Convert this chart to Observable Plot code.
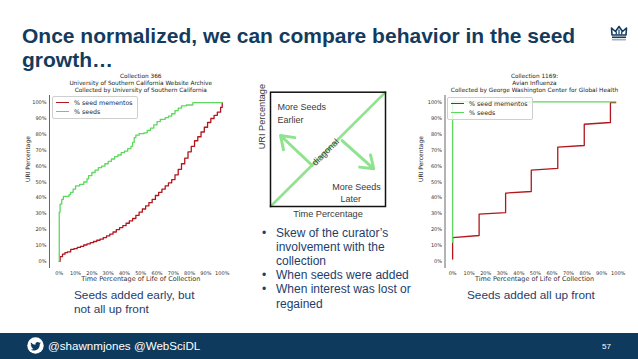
<!DOCTYPE html>
<html><head><meta charset="utf-8">
<script src="https://cdn.jsdelivr.net/npm/d3@7"></script>
<script src="https://cdn.jsdelivr.net/npm/@observablehq/plot@0.6"></script>
<style>
html,body{margin:0;padding:0;background:#fff;}
#slide{position:relative;width:638px;height:359px;overflow:hidden;font-family:"Liberation Sans",Arial,sans-serif;background:#fff;}
.abs{position:absolute;white-space:nowrap;}
.legend{position:absolute;background:rgba(255,255,255,0.8);border:1px solid #cfcfcf;border-radius:2px;font-family:"DejaVu Sans";font-size:6.3px;color:#222;}
.legend .row{position:absolute;left:3px;height:8px;line-height:8px;}
.legend .sw{display:inline-block;width:13px;height:1.4px;vertical-align:middle;margin-right:5px;position:relative;top:-0.5px;}
</style></head>
<body><div id="slide"></div>
<script>
// ---------- data ----------
const slideTitle = ["Once normalized, we can compare behavior in the seed", "growth\u2026"];
const pctTicks = [0, 10, 20, 30, 40, 50, 60, 70, 80, 90, 100];
const seriesNames = ["% seed mementos", "% seeds"];
const xAxisLabel = "Time Percentage of Life of Collection";
const yAxisLabel = "URI Percentage";

// Collection 366
const title366 = ["Collection 366", "University of Southern California Website Archive", "Collected by University of Southern California"];
const mementoX366 = [0,0.5,2,3.5,5,7,9,11,13,15,17,19,21,23,25,27,29,31,33,35,37,39,41,43,45,47,49,51,53,55,57,59,61,63,65,67,69,71,73,75,77,79,81,83,85,87,89,91,93,95,97,99,100];
const mementoY366 = [0,3,4.5,5.5,6,7.5,8,8.8,9.5,10.3,11,11.8,12.5,13.3,14,15,16,17.2,18.5,20,21.3,22.5,24,25.5,27,29,31,33,35,37,39,41.5,43.5,45.5,47.5,49.5,51.5,54.5,58,61.5,65,69,72.5,76,78.5,81.5,84.5,87.5,90,92,94,97,100];
const seedX366 = [0,0,0.5,1.5,2.5,6,7,8.5,10,12.5,15,17,18,20,22,24,26,28,30,32,34,36,38,40,42,44,45,46,47,49,52,54,56,58,60,62,65,67,69,71,73,75,78,82,100];
const seedY366 = [0,31,36,39,41,42,43.5,45.5,47.5,48.5,50,52,54,56,57.5,59,60,61.5,63,64.5,66,67,68.5,69.5,71,72.5,75,78,79.5,80.5,81,82.5,84,86,88,89.5,90.5,91.5,93,95,96.5,98,98.5,100,100];

// Collection 1169
const title1169 = ["Collection 1169:", "Avian Influenza", "Collected by George Washington Center for Global Health"];
const mementoX1169 = [0,0,16,16,32,32,47.5,47.5,63.5,63.5,79.5,79.5,95.3,95.3,98.5];
const mementoY1169 = [1.5,15,16.3,29.8,30.7,43,44,57.5,58.6,72,73,86.4,87.5,100,100];
const seedX1169 = [0,0,98.5];
const seedY1169 = [12,100.5,100.5];

// Diagram
const diagonalX = [0, 100];
const diagonalY = [0, 100];
const arrowFrom = [[36.3, 35.9], [62.3, 57.7]];
const arrowTo = [[8.7, 62.1], [89.8, 33]];
const diagramLabels = ["More Seeds", "Earlier", "More Seeds", "Later"];
const diagramLabelX = [6, 6, 53.7, 60.9];
const diagramLabelY = [86.6, 75.2, 16.9, 6.1];
const diagonalWord = "diagonal";
const diagramXLabel = "Time Percentage";
const diagramYLabel = "URI Percentage";

const bullets = [["Skew of the curator\u2019s", "involvement with the", "collection"], ["When seeds were added"], ["When interest was lost or", "regained"]];
const caption366 = ["Seeds added early, but", "not all up front"];
const caption1169 = ["Seeds added all up front"];
const footerText = "@shawnmjones @WebSciDL";
const pageNumber = "57";

// ---------- styles ----------
const RED = "#b3161c", GREEN = "#5cd85c", NAVY = "#133b5e", BLUE_TEXT = "#1e3d6b", ARROW_GREEN = "#8fe38f";
const slide = document.getElementById("slide");
function addDiv(html, style, cls) {
  const d = document.createElement("div");
  d.className = cls || "abs";
  d.innerHTML = html;
  Object.assign(d.style, style);
  slide.appendChild(d);
  return d;
}

// title
slideTitle.forEach((t, i) => addDiv(t, {left: "22px", top: (24 + i * 23.5) + "px", fontSize: "21px", lineHeight: "23.5px", fontWeight: "bold", color: NAVY}));
// crown logo
addDiv(`<svg width="18" height="18" viewBox="0 0 18 18"><path d="M2 11 L1.5 4 L5.5 7.5 L9 2.5 L12.5 7.5 L16.5 4 L16 11 Z" fill="none" stroke="${NAVY}" stroke-width="1.6" stroke-linejoin="round"/><path d="M6.3 10.5 L6.3 7.5 M9 10.5 L9 5.5 M11.7 10.5 L11.7 7.5" stroke="${NAVY}" stroke-width="1.2"/><rect x="2" y="12.5" width="14" height="1.6" fill="${NAVY}"/><rect x="2" y="15.2" width="14" height="1.2" fill="#8a9db5"/></svg>`, {left: "610px", top: "24px"});

// ---------- growth charts ----------
function growthChart(o) {
  const red = o.redX.map((x, i) => ({x, y: o.redY[i]}));
  const green = o.greenX.map((x, i) => ({x, y: o.greenY[i]}));
  return Plot.plot({
    width: o.width, height: 220,
    marginLeft: o.marginLeft, marginRight: o.marginRight, marginTop: 29, marginBottom: 18,
    x: {domain: o.xDomain, ticks: pctTicks, tickFormat: d => d + "%", tickSize: 0, tickPadding: 2.5, label: null},
    y: {domain: [-4.5, 104.5], ticks: pctTicks, tickFormat: d => d + "%", tickSize: 0, tickPadding: 3, label: null},
    style: {fontFamily: "DejaVu Sans", fontSize: "5px", color: "#333", background: "transparent", overflow: "visible"},
    marks: [
      Plot.ruleX([o.xDomain[0]], {stroke: "#555", strokeWidth: 0.9}),
      Plot.line(red, {x: "x", y: "y", stroke: RED, strokeWidth: 1.3, curve: o.curve}),
      Plot.line(green, {x: "x", y: "y", stroke: GREEN, strokeWidth: 1.3, curve: o.curve}),
      Plot.text([o.title.join("\n")], {text: d => d, frameAnchor: "top", lineAnchor: "top", dy: -23, fontSize: 5.8, lineHeight: 1.22, fill: "#222"}),
      Plot.text([yAxisLabel], {text: d => d, frameAnchor: "left", rotate: -90, dx: o.yLabelDx, fontSize: 6, fill: "#222"}),
      Plot.text([xAxisLabel], {text: d => d, frameAnchor: "bottom", dy: 12, fontSize: 6.5, fill: "#333"})
    ]
  });
}

function placeChart(chart, left) {
  const wrap = addDiv("", {left: left + "px", top: "66px", width: "240px", height: "218px", overflow: "hidden"});
  wrap.appendChild(chart);
}

placeChart(growthChart({redX: mementoX366, redY: mementoY366, greenX: seedX366, greenY: seedY366, curve: "step-after",
  xDomain: [-6, 106], width: 240, marginLeft: 49, marginRight: 8.5, title: title366, yLabelDx: -21}), 0);
placeChart(growthChart({redX: mementoX1169, redY: mementoY1169, greenX: seedX1169, greenY: seedY1169, curve: "linear",
  xDomain: [-4.6, 103.5], width: 238, marginLeft: 44.5, marginRight: 14.5, title: title1169, yLabelDx: -23.8}), 400);

function legend(left, top) {
  addDiv(`<div class="row" style="top:2px"><span class="sw" style="background:${RED}"></span>${seriesNames[0]}</div>
          <div class="row" style="top:11px"><span class="sw" style="background:${GREEN}"></span>${seriesNames[1]}</div>`,
    {left: left + "px", top: top + "px", width: "84px", height: "21px"}, "legend");
}
legend(52, 96);
legend(447, 97);

// ---------- diagram ----------
const diagPts = diagonalX.map((x, i) => ({x, y: diagonalY[i]}));
const arrows = arrowFrom.map((f, i) => ({x1: f[0], y1: f[1], x2: arrowTo[i][0], y2: arrowTo[i][1]}));
const labels = diagramLabels.map((t, i) => ({t, x: diagramLabelX[i], y: diagramLabelY[i]}));
const diagram = Plot.plot({
  width: 145, height: 140, marginLeft: 20, marginRight: 10, marginTop: 6.7, marginBottom: 19,
  x: {domain: [0, 100], axis: null}, y: {domain: [0, 100], axis: null},
  style: {fontFamily: "Liberation Sans", fontSize: "9px", color: "#3a3a3a", background: "transparent", overflow: "visible"},
  marks: [
    Plot.line(diagPts, {x: "x", y: "y", stroke: ARROW_GREEN, strokeWidth: 2.6}),
    Plot.arrow(arrows, {x1: "x1", y1: "y1", x2: "x2", y2: "y2", stroke: ARROW_GREEN, strokeWidth: 3, headLength: 9, headAngle: 70}),
    Plot.frame({stroke: "#111", strokeWidth: 1.5}),
    Plot.text(labels, {x: "x", y: "y", text: "t", textAnchor: "start", fill: "#3a3a3a"}),
    Plot.text([{t: diagonalWord, x: 47.8, y: 47.5}], {x: "x", y: "y", text: "t", rotate: -45, fill: "#3a3a3a", fontSize: 9}),
    Plot.text([diagramYLabel], {text: d => d, frameAnchor: "left", rotate: -90, dx: -8, fill: "#3a3a3a", fontSize: 9.2}),
    Plot.text([diagramXLabel], {text: d => d, frameAnchor: "bottom", dy: 10, fill: "#3a3a3a", fontSize: 9.2})
  ]
});
addDiv("", {left: "250px", top: "85px"}).appendChild(diagram);

// bullets
let by = 225.5;
bullets.forEach(b => {
  b.forEach((line, j) => {
    if (j === 0) addDiv("\u2022", {left: "262px", top: by + "px", fontSize: "12px", lineHeight: "14px", color: BLUE_TEXT});
    addDiv(line, {left: "276px", top: by + "px", fontSize: "12px", lineHeight: "14px", color: BLUE_TEXT});
    by += 14.2;
  });
});

// captions
addDiv(caption366.join("<br>"), {left: "74px", top: "289px", fontSize: "11.8px", lineHeight: "13.5px", color: BLUE_TEXT});
addDiv(caption1169.join("<br>"), {left: "467px", top: "289px", fontSize: "11.8px", lineHeight: "13.5px", color: BLUE_TEXT});

// footer
addDiv("", {left: "0px", top: "333px", width: "638px", height: "26px", background: "#0d3a5d"});
addDiv(`<svg width="17" height="17" viewBox="0 0 17 17"><circle cx="8.5" cy="8.5" r="8.2" fill="#fff"/><g transform="translate(3.3,4) scale(0.44)"><path d="M23.95 4.57a10 10 0 0 1-2.82.77 4.96 4.96 0 0 0 2.16-2.72c-.95.56-2 .96-3.12 1.19a4.920 4.920 0 0 0-8.38 4.48A13.94 13.94 0 0 1 1.64 3.16a4.92 4.92 0 0 0 1.52 6.57 4.9 4.9 0 0 1-2.23-.61v.06c0 2.38 1.7 4.37 3.950 4.82a5 5 0 0 1-2.21.09 4.93 4.93 0 0 0 4.6 3.42A9.87 9.87 0 0 1 0 19.54a14 14 0 0 0 7.56 2.21c9.05 0 14-7.5 14-13.98 0-.21 0-.42-.02-.63A9.94 9.94 0 0 0 24 4.59z" fill="#0d3a5d"/></g></svg>`, {left: "27px", top: "337px"});
addDiv(footerText, {left: "48px", top: "338px", fontSize: "11.6px", lineHeight: "16px", color: "#fff"});
addDiv(pageNumber, {left: "602px", top: "342px", fontSize: "8px", lineHeight: "10px", color: "#fff"});
</script>
</body></html>
